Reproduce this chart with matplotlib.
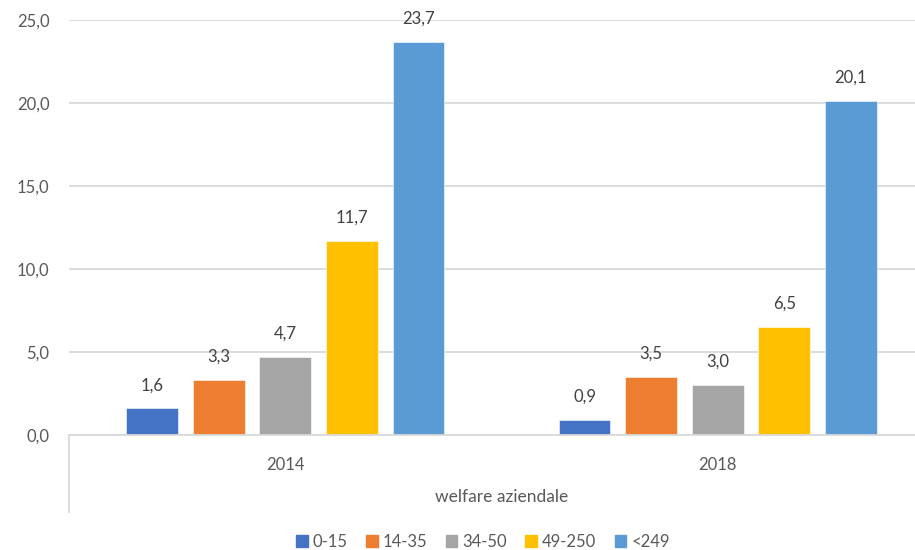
import matplotlib
matplotlib.use("Agg")
import matplotlib.pyplot as plt
import matplotlib.patches as mpatches
import numpy as np
from matplotlib.ticker import FuncFormatter

# ── Data ──────────────────────────────────────────────
years = ["2014", "2018"]
classes = ["0-15", "14-35", "34-50", "49-250", "<249"]
values = [
    [1.6, 0.9],     # 0-15
    [3.3, 3.5],     # 14-35
    [4.7, 3.0],     # 34-50
    [11.7, 6.5],    # 49-250
    [23.7, 20.1],   # <249
]
group_title = "welfare aziendale"

COLORS = ["#4472C4", "#ED7D31", "#A5A5A5", "#FFC000", "#5B9BD5"]
GRID = "#D9D9D9"
TXT = "#595959"
LBL = "#404040"

plt.rcParams["font.family"] = ["Lato", "DejaVu Sans"]

W, H = 915, 550
fig = plt.figure(figsize=(W / 100, H / 100), dpi=100)
ax = fig.add_axes([69 / W, 115 / H, (W - 69) / W, 415 / H])

x = np.arange(len(years))
bw = 0.12
step = 0.154
for i, (cls, vals) in enumerate(zip(classes, values)):
    xs = x + (i - 2) * step
    bars = ax.bar(xs, vals, width=bw, color=COLORS[i], label=cls,
                  edgecolor="white", linewidth=0.4, zorder=2)
    for b, v in zip(bars, vals):
        ax.annotate(f"{v:.1f}".replace(".", ","),
                    xy=(b.get_x() + b.get_width() / 2, v),
                    xytext=(0, 11), textcoords="offset points",
                    ha="center", va="bottom", fontsize=12, color=LBL)

ax.set_ylim(0, 25)
ax.set_xlim(-0.5, -0.5 + (W - 69) / 432.5)
ax.set_yticks(np.arange(0, 26, 5))
ax.yaxis.set_major_formatter(FuncFormatter(lambda v, p: f"{v:.1f}".replace(".", ",")))
ax.grid(axis="y", color=GRID, linewidth=1.3, zorder=0)
ax.tick_params(axis="y", length=0, pad=14, labelsize=12, labelcolor=TXT)
ax.set_xticks(x)
ax.set_xticklabels(years)
ax.tick_params(axis="x", length=0, pad=16, labelsize=12, labelcolor=TXT)

for s in ["top", "right", "left"]:
    ax.spines[s].set_visible(False)
ax.spines["bottom"].set_color(GRID)
ax.spines["bottom"].set_linewidth(1.3)

# category-axis outer separator
ax.plot([0, 0], [0, -77 / 415], transform=ax.transAxes, color=GRID,
        linewidth=1.3, clip_on=False)
ax.text(0.5, -62 / 415, group_title, transform=ax.get_xaxis_transform(),
        ha="center", va="center", fontsize=12.5, color=TXT)

handles = [mpatches.Patch(color=c, label=l) for c, l in zip(COLORS, classes)]
fig.legend(handles=handles, loc="center", bbox_to_anchor=(483 / W, 1 - 542 / H),
           ncol=5, frameon=False, fontsize=12, labelcolor=TXT,
           handlelength=0.7, handleheight=0.7, handletextpad=0.3,
           columnspacing=1.1)

fig.savefig("out.png", dpi=100, facecolor="white")
